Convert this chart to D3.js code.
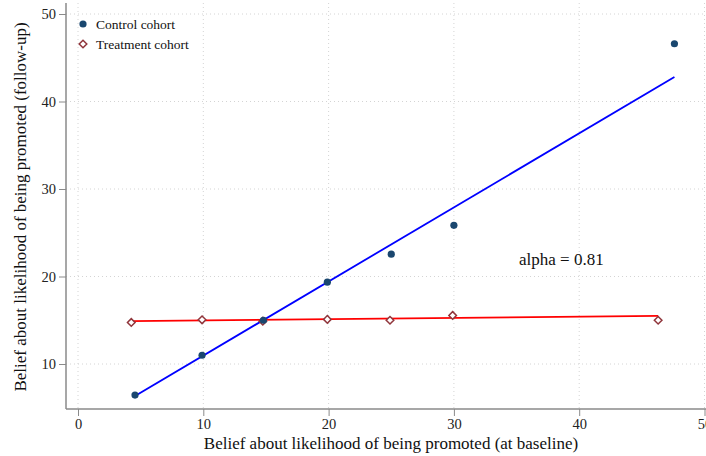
<!DOCTYPE html>
<html>
<head>
<meta charset="utf-8">
<script src="https://cdn.jsdelivr.net/npm/d3@7"></script>
<style>
  html, body { margin: 0; padding: 0; background: #fff; }
  svg { display: block; }
  svg text { font-family: "Liberation Serif", "Times New Roman", serif; }
</style>
</head>
<body>
<svg id="chart" width="706" height="456"></svg>
<script>
// Binned means: baseline belief (x) vs follow-up belief (y)
const controlX = [4.55, 9.9, 14.8, 19.9, 25.0, 30.0, 47.6];
const controlY = [6.45, 11.0, 15.0, 19.35, 22.55, 25.85, 46.6];
const treatX   = [4.25, 9.9, 14.75, 19.9, 24.9, 29.9, 46.3];
const treatY   = [14.75, 15.05, 14.9, 15.1, 15.0, 15.55, 15.0];

// Fitted line endpoints [x0, x1] and [y0, y1]
const controlFitX = [4.55, 47.6];
const controlFitY = [6.35, 42.8];
const treatFitX   = [4.25, 46.3];
const treatFitY   = [14.9, 15.5];

const xTicks = [0, 10, 20, 30, 40, 50];
const yTicks = [10, 20, 30, 40, 50];
const legendLabels = ["Control cohort", "Treatment cohort"];
const annotation = "alpha = 0.81";

const svg = d3.select("#chart");

const x = d3.scaleLinear().domain([0, 50]).range([78, 704.5]);
const y = d3.scaleLinear().domain([10, 50]).range([364, 14]);

const plotLeft = 66, plotRight = 706, plotTop = 3, plotBottom = 409;

const navy = "#1a476f";
const maroon = "#90353b";
const gridColor = "#d4d4d4";
const axisColor = "#8a8a8a";
const serif = "'Liberation Serif', 'Times New Roman', serif";

// Grid
const grid = svg.append("g");
grid.selectAll("line.gy").data(yTicks).enter().append("line")
  .attr("x1", plotLeft).attr("x2", plotRight)
  .attr("y1", d => y(d)).attr("y2", d => y(d))
  .attr("stroke", gridColor).attr("stroke-width", 1)
  .attr("stroke-dasharray", "1,3");
grid.selectAll("line.gx").data(xTicks).enter().append("line")
  .attr("x1", d => x(d)).attr("x2", d => x(d))
  .attr("y1", plotTop).attr("y2", plotBottom)
  .attr("stroke", gridColor).attr("stroke-width", 1)
  .attr("stroke-dasharray", "1,3");

// Axes
const yAxis = d3.axisLeft(y).tickValues(yTicks).tickSize(7).tickPadding(3).tickSizeOuter(0);
const yg = svg.append("g").attr("transform", `translate(${plotLeft},0)`).call(yAxis);
yg.select(".domain").remove();
yg.append("line").attr("x1", 0).attr("x2", 0).attr("y1", plotTop).attr("y2", plotBottom)
  .attr("stroke", axisColor).attr("stroke-width", 1.5);

const xAxis = d3.axisBottom(x).tickValues(xTicks).tickSize(7).tickPadding(3).tickSizeOuter(0);
const xg = svg.append("g").attr("transform", `translate(0,${plotBottom})`).call(xAxis);
xg.select(".domain").remove();
xg.append("line").attr("x1", plotLeft).attr("x2", plotRight).attr("y1", 0).attr("y2", 0)
  .attr("stroke", axisColor).attr("stroke-width", 1.5);

[yg, xg].forEach(g => {
  g.attr("font-family", serif).attr("font-size", 14.5);
  g.selectAll(".tick line").attr("stroke", axisColor).attr("stroke-width", 1);
  g.selectAll(".tick text").attr("fill", "#222");
});

// Axis titles
svg.append("text")
  .attr("x", 391).attr("y", 449)
  .attr("text-anchor", "middle").attr("font-size", 17).attr("fill", "#111")
  .text("Belief about likelihood of being promoted (at baseline)");
svg.append("text")
  .attr("transform", "translate(26,207) rotate(-90)")
  .attr("text-anchor", "middle").attr("font-size", 17).attr("fill", "#111")
  .text("Belief about likelihood of being promoted (follow-up)");

// Fit lines
const line = d3.line().x(d => x(d[0])).y(d => y(d[1]));
svg.append("path")
  .datum(d3.zip(controlFitX, controlFitY))
  .attr("d", line).attr("fill", "none").attr("stroke", "#0000ff").attr("stroke-width", 1.8);
svg.append("path")
  .datum(d3.zip(treatFitX, treatFitY))
  .attr("d", line).attr("fill", "none").attr("stroke", "#ff0000").attr("stroke-width", 1.8);

// Markers
const diamond = (cx, cy, r) => `M${cx},${cy - r}L${cx + r},${cy}L${cx},${cy + r}L${cx - r},${cy}Z`;

svg.append("g").selectAll("path")
  .data(d3.zip(treatX, treatY)).enter().append("path")
  .attr("d", d => diamond(x(d[0]), y(d[1]), 3.8))
  .attr("fill", "#fff").attr("stroke", maroon).attr("stroke-width", 1.5);

svg.append("g").selectAll("circle")
  .data(d3.zip(controlX, controlY)).enter().append("circle")
  .attr("cx", d => x(d[0])).attr("cy", d => y(d[1])).attr("r", 3.6)
  .attr("fill", navy);

// Annotation
svg.append("text")
  .attr("x", 519).attr("y", 265)
  .attr("font-size", 17).attr("fill", "#111")
  .text(annotation);

// Legend
const lg = svg.append("g");
lg.append("circle").attr("cx", 83).attr("cy", 24).attr("r", 3.6).attr("fill", navy);
lg.append("path").attr("d", diamond(83, 44, 3.8))
  .attr("fill", "#fff").attr("stroke", maroon).attr("stroke-width", 1.5);
lg.selectAll("text").data(legendLabels).enter().append("text")
  .attr("x", 96).attr("y", (d, i) => 24 + i * 20)
  .attr("dy", "0.35em").attr("font-size", 13.5).attr("fill", "#111")
  .text(d => d);
</script>
</body>
</html>
